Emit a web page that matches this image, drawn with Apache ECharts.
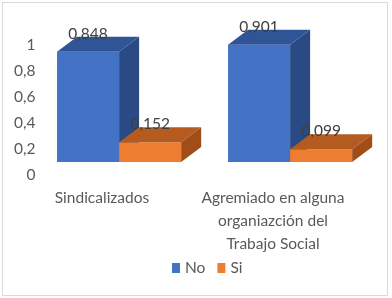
<!DOCTYPE html>
<html>
<head>
<meta charset="utf-8">
<script src="https://cdn.jsdelivr.net/npm/echarts@6/dist/echarts.min.js"></script>
<style>
  html, body { margin: 0; padding: 0; background: #fff; }
  #chart { width: 392px; height: 298px; }
</style>
</head>
<body>
<div id="chart"></div>
<script>
const categories = ['Sindicalizados', 'Agremiado en alguna\norganiazción del\nTrabajo Social']
const noValues = [0.848, 0.901]
const siValues = [0.152, 0.099]
const yTicks = [0, 0.2, 0.4, 0.6, 0.8, 1]

const font = 'Lato, "Open Sans", sans-serif'
const depthX = 20
const depthY = -15
const frontShift = -13

function fmt(v) {
	return String(v).replace('.', ',')
}

function makeBar(startFrac, widthFrac, colors) {
	return function (params, api) {
		const cat = api.value(0)
		const val = api.value(1)
		const base = api.coord([cat, 0])
		const top = api.coord([cat, val])
		const bw = api.size([1, 0])[0]
		const x0 = base[0] + bw * startFrac
		const w = bw * widthFrac
		const yb = base[1] + frontShift
		const yt = top[1] + frontShift
		return {
			type: 'group',
			children: [
				{
					type: 'polygon',
					shape: { points: [[x0, yt], [x0 + w, yt], [x0 + w, yb], [x0, yb]] },
					style: { fill: colors[0] }
				},
				{
					type: 'polygon',
					shape: { points: [[x0, yt], [x0 + depthX, yt + depthY], [x0 + w + depthX, yt + depthY], [x0 + w, yt]] },
					style: { fill: colors[1] }
				},
				{
					type: 'polygon',
					shape: { points: [[x0 + w, yt], [x0 + w + depthX, yt + depthY], [x0 + w + depthX, yb + depthY], [x0 + w, yb]] },
					style: { fill: colors[2] }
				},
				{
					type: 'text',
					style: {
						x: x0 + w / 2,
						y: yt - 18,
						text: fmt(val),
						align: 'center',
						verticalAlign: 'middle',
						fill: '#404040',
						font: '15.5px ' + font
					}
				}
			]
		}
	}
}

const chart = echarts.init(document.getElementById('chart'))

chart.setOption({
	animation: false,
	graphic: [
		{
			type: 'rect',
			shape: { x: 2.5, y: 2.5, width: 385, height: 293 },
			style: { fill: 'none', stroke: '#d9d9d9', lineWidth: 1 },
			silent: true
		}
	],
	grid: {
		left: 16.5,
		right: 33.5,
		top: 45,
		bottom: 123
	},
	legend: {
		bottom: 17,
		left: 167,
		icon: 'rect',
		itemWidth: 8,
		itemHeight: 10,
		itemGap: 12,
		textStyle: { fontFamily: font, fontSize: 15.5, color: '#595959' },
		data: ['No', 'Si']
	},
	xAxis: {
		type: 'category',
		data: categories,
		axisLine: { show: false },
		axisTick: { show: false },
		axisLabel: {
			margin: 11,
			interval: 0,
			fontFamily: font,
			fontSize: 15.5,
			lineHeight: 23,
			color: '#595959'
		}
	},
	yAxis: {
		type: 'value',
		min: 0,
		max: 1,
		interval: 0.2,
		offset: -27,
		axisLine: { show: false },
		axisTick: { show: false },
		splitLine: { show: false },
		axisLabel: {
			fontFamily: font,
			fontSize: 15.5,
			color: '#595959',
			formatter: function (v) {
				const t = yTicks.find(function (k) { return Math.abs(k - v) < 1e-9 })
				return fmt(t !== undefined ? t : v)
			}
		}
	},
	series: [
		{
			name: 'No',
			type: 'custom',
			itemStyle: { color: '#4472c4' },
			encode: { x: 0, y: 1 },
			data: noValues.map(function (v, i) { return [i, v] }),
			renderItem: makeBar(-0.263, 0.363, ['#4472c4', '#2f5597', '#294a85'])
		},
		{
			name: 'Si',
			type: 'custom',
			itemStyle: { color: '#ed7d31' },
			encode: { x: 0, y: 1 },
			data: siValues.map(function (v, i) { return [i, v] }),
			renderItem: makeBar(0.1, 0.363, ['#ed7d31', '#b65b1f', '#a04d17'])
		}
	]
})
</script>
</body>
</html>
